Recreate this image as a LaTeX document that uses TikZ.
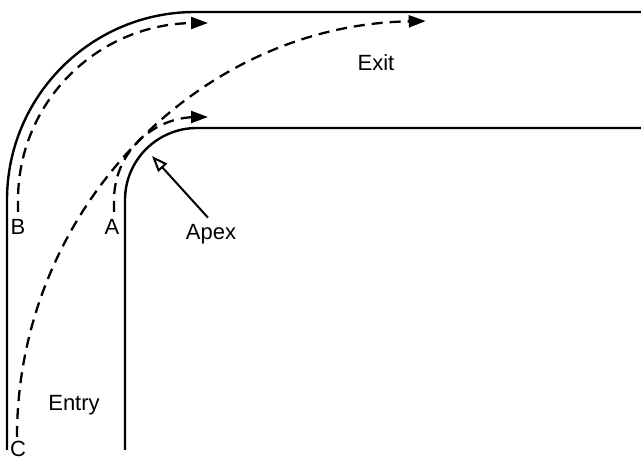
\documentclass[tikz,border=0pt]{standalone}
\usepackage{fontspec}
\setmainfont{Liberation Sans}
\usetikzlibrary{arrows.meta,positioning}

\begin{document}
\begin{tikzpicture}[x=1pt, y=1pt,
  road/.style={line width=2.4pt},
  line/.style={line width=2.3pt, dash pattern=on 11pt off 7pt, -{Triangle[length=17pt,width=12pt]}},
  lbl/.style={font=\fontsize{22}{26}\selectfont, anchor=base, inner sep=0pt}]
\useasboundingbox (0,0) rectangle (641,463);
% road edges
\draw[road] (7,13) -- (7,263) arc (180:90:188) -- (641,451);
\draw[road] (125,13) -- (125,263) arc (180:90:72) -- (641,335);
% start and end points of the lines
\coordinate (bs) at (18,251);
\coordinate (be) at (208,440);
\coordinate (as) at (114,251);
\coordinate (ae) at (208,346);
\coordinate (cs) at (17,26);
% lines through the corner
\draw[line] (bs) -- (18,263) arc (180:90:177) -- (be);
\draw[line] (as) -- (114,263) arc (180:90:83) -- (ae);
\draw[line] (cs) arc (180:91:416);
% labels
\node[lbl] (b) at (18,228) {B};
\node[lbl] (a) at (112,228) {A};
\node[lbl] (c) at (18,6) {C};
\node[lbl] (entry) at (74,52) {Entry};
\node[lbl] (exit) at (376,392) {Exit};
\node[lbl] (apex) at (211,223) {Apex};
\coordinate (apexpt) at (152,307);
\draw[line width=2pt, -{Triangle[open,length=16pt,width=12pt]}] (apex.north) ++(-3,7) -- (apexpt);
\end{tikzpicture}
\end{document}
